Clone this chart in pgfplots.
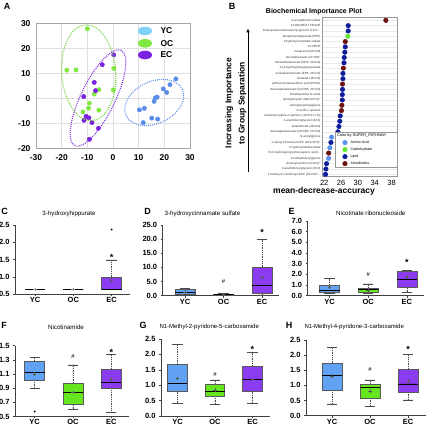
\documentclass[border=0pt]{standalone}
\usepackage{fontspec}
\setmainfont{Liberation Sans}
\usepackage{pgfplots}
\pgfplotsset{compat=1.18}
\usepgfplotslibrary{statistics}
\usetikzlibrary{arrows.meta}
\newcommand{\fs}[1]{\fontsize{#1}{#1}\selectfont}
\newcommand{\dd}{.\kern0.1pt.\kern0.1pt.}
\definecolor{ycA}{HTML}{5B8DE8}
\definecolor{ocA}{HTML}{80E840}
\definecolor{ecA}{HTML}{7A22E0}
\definecolor{ycL}{HTML}{80D2F6}
\definecolor{aa}{HTML}{5B8FF0}
\definecolor{carb}{HTML}{66E633}
\definecolor{lip}{HTML}{0C1C9C}
\definecolor{xen}{HTML}{6E1010}
\definecolor{ycB}{HTML}{62A2F4}
\definecolor{ocB}{HTML}{66E61E}
\definecolor{ecB}{HTML}{8C3CF0}
\tikzset{
 hashmark/.style={font=\fs{6}, anchor=base, yshift=-2pt},
 starmark/.style={font=\bfseries\fs{9}, anchor=base, yshift=-5pt},
}
\pgfplotsset{
 bpaxis/.style={
   scale only axis, anchor=south west, clip=false,
   axis x line*=bottom, axis y line*=left,
   axis line style={black!75, line width=0.6pt},
   xtick={1,2,3}, xticklabels={YC,OC,EC},
   tick align=outside, major tick length=2pt,
   tick style={black!75, line width=0.5pt},
   ticklabel style={font=\bfseries\fs{7.5}},
   xticklabel style={inner ysep=1pt},
   /pgf/number format/assume math mode=true,
   yticklabel style={/pgf/number format/fixed, /pgf/number format/fixed zerofill, /pgf/number format/precision=1},
   boxplot/draw direction=y,
   boxplot/box extend=0.52,
   boxplot/whisker extend=0.27,
   boxplot/every box/.style={draw=black!65, line width=0.5pt},
   boxplot/every median/.style={black, line width=0.7pt},
   boxplot/every average/.style={/tikz/mark=+, /tikz/mark size=1.8pt, black, solid, line width=0.5pt},
   boxplot/every whisker/.style={black!70, line width=0.5pt},
   boxplot/draw/lower whisker/.code={
     \draw[/pgfplots/boxplot/every whisker/.try, dash pattern=on 1pt off 0.8pt]
       (boxplot box cs:\pgfplotsboxplotvalue{lower whisker},0.5) -- (boxplot box cs:\pgfplotsboxplotvalue{lower quartile},0.5);
     \draw[/pgfplots/boxplot/every whisker/.try]
       (boxplot whisker cs:\pgfplotsboxplotvalue{lower whisker},0) -- (boxplot whisker cs:\pgfplotsboxplotvalue{lower whisker},1);
   },
   boxplot/draw/upper whisker/.code={
     \draw[/pgfplots/boxplot/every whisker/.try, dash pattern=on 1pt off 0.8pt]
       (boxplot box cs:\pgfplotsboxplotvalue{upper quartile},0.5) -- (boxplot box cs:\pgfplotsboxplotvalue{upper whisker},0.5);
     \draw[/pgfplots/boxplot/every whisker/.try]
       (boxplot whisker cs:\pgfplotsboxplotvalue{upper whisker},0) -- (boxplot whisker cs:\pgfplotsboxplotvalue{upper whisker},1);
   },
 },
 yc/.style={fill=ycB, draw=black!65},
 oc/.style={fill=ocB, draw=black!65},
 ec/.style={fill=ecB, draw=black!65},
}
\begin{document}
\begin{tikzpicture}[x=1pt,y=1pt]
\path[use as bounding box] (0,0) rectangle (431,428);

% ---------------- Panel A ----------------
\node[font=\bfseries\fs{9}] at (7,422) {A};
\begin{axis}[at={(36pt,279.7pt)}, anchor=south west, scale only axis,
  width=154pt, height=124.8pt, xmin=-30, xmax=30, ymin=-20, ymax=30,
  xtick={-30,-20,...,30}, ytick={-20,-10,...,30},
  grid=major, grid style={black!12}, axis line style={black!35},
  major tick length=0pt,
  ticklabel style={font=\bfseries\fs{8.5}},
  xticklabel style={yshift=-3pt}, yticklabel style={xshift=-2pt},
  /pgf/number format/assume math mode=true]
\addplot[only marks, mark=*, mark size=2.2pt, color=ycA] coordinates {
(24.5,7.8) (22.2,5.5) (19.6,3.8) (20.9,2.4) (16.5,0.2) (17.2,0.5) (16,-1.2)
(12.2,-4) (10.3,-4.6) (15.1,-7.9) (17.4,-8.3) (11.8,-9.7)};
\addplot[only marks, mark=*, mark size=2.2pt, color=ocA] coordinates {
(-10,27.9) (-18,11.3) (-14.4,11.4) (0.3,12) (0.1,3.4) (-5.5,3.5) (-7.3,1.7)
(-9.2,-1.9) (-9.5,-3.9) (-11.7,-5.4) (-5.5,-4.7)};
\addplot[only marks, mark=*, mark size=2.2pt, color=ecA] coordinates {
(0.3,17.4) (-4.2,13.5) (-7.3,6.4) (-6.8,3.1) (-11.4,0.7) (-10.5,-7.2) (-9.4,-7.8)
(-11.3,-8.8) (-8.2,-9.7) (-5.7,-12) (-9.2,-16.4)};
\end{axis}
\draw[ocA!90!black, line width=1.1pt, dash pattern=on 0.9pt off 1.1pt, rotate around={4:(88.7,355.2)}] (88.7,355.2) ellipse [x radius=27, y radius=48];
\draw[ecA, line width=1.1pt, dash pattern=on 0.9pt off 1.1pt, rotate around={64:(98,330)}] (98,330) ellipse [x radius=53, y radius=17];
\draw[ycA, line width=1.1pt, dash pattern=on 0.9pt off 1.1pt, rotate around={25:(154.2,325.5)}] (154.2,325.5) ellipse [x radius=31, y radius=21];
% legend A
\fill[ycL] (145,397) ellipse [x radius=7, y radius=4.3];
\fill[ocA] (145,384.7) ellipse [x radius=7, y radius=4.3];
\fill[ecA] (145,373) ellipse [x radius=7, y radius=4.3];
\node[font=\bfseries\fs{8.5}, anchor=west] at (157,397) {YC};
\node[font=\bfseries\fs{8.5}, anchor=west] at (157,384.7) {OC};
\node[font=\bfseries\fs{8.5}, anchor=west] at (157,373) {EC};

% ---------------- Panel B ----------------
\node[font=\bfseries\fs{9}] at (232,422) {B};
\node[font=\bfseries\fs{7}] at (314,416.3) {Biochemical Importance Plot};
\node[font=\bfseries\fs{8.5}] at (324,236.3) {mean-decrease-accuracy};
\node[font=\bfseries\fs{8.5}, rotate=90] at (229.3,325) {Increasing Importance};
\node[font=\bfseries\fs{8.5}, rotate=90] at (242.3,325) {to Group Separation};
\draw[line width=0.8pt, -{Latex[length=4pt,width=3.5pt]}] (248,256.3) -- (248,399.7);
\begin{axis}[at={(321.7pt,251.3pt)}, anchor=south west, scale only axis,
  width=75.3pt, height=159.4pt, xmin=21.4, xmax=39.3, ymin=0.55, ymax=30.57,
  xtick={22,26,30,34,38}, ytick={1,2,3,4,5,6,7,8,9,10,11,12,13,14,15,16,17,18,19,20,21,22,23,24,25,26,27,28,29,30},
  yticklabels={{1-linoleoyl-2-linolenoyl-GPC (18:2/18:\dd},{2-arachidonoylglycerol (20:4)},{linoleoylcarnitine (C18:2)*},{2-methylbutyrylglycine},{S-(3-hydroxypropyl)mercapturic acid(\dd},{5-hydroxyindoleacetate},{1-oleoyl-2-linoleoyl-GPC (18:1/18:2)*},{N-acetylglycine},{docosapentaenoate (n6 DPA; 22:5n6)},{stearidonate (18:4n3)},{1-arachidonylglycerol (20:4)},{linolenate [alpha or gamma; (18:3n3 or 6)]},{O-sulfo-L-tyrosine},{phenylpropionylglycine},{sphingomyelin (d18:2/24:2)*},{trimethylamine N-oxide},{docosapentaenoate (n3 DPA; 22:5n3)},{perfluorooctanesulfonic acid (PFOS)},{linoleate (18:2n6)},{eicosapentaenoate (EPA; 20:5n3)},{3-(4-hydroxyphenyl)propionate},{docosahexaenoate (DHA; 22:6n3)},{docosatrienoate (22:3n6)*},{mead acid (20:3n9)},{12-HEPE},{3-hydroxycinnamate sulfate},{phosphoenolpyruvate (PEP)},{linoleoyl-docosahexaenoyl-glycerol (18:2/\dd},{14-HDoHE/17-HDoHE},{3-acetylphenol sulfate}},
  yticklabel style={font=\fs{3}, text=black!80, inner xsep=1pt},
  xticklabel style={font=\fs{7.5}},
  ymajorgrids, grid style={black!8}, major tick length=0pt,
  axis line style={black!40},
  /pgf/number format/assume math mode=true,
  legend image code/.code={\path (-6pt,0pt); \draw[#1] plot coordinates {(0.1cm,0cm)};},
  legend style={at={(axis cs:24.5,9.0)}, anchor=north west, font=\fs{3.6},
    draw=black!40, inner sep=1pt, row sep=2.3pt, column sep=3pt,
    nodes={inner sep=0.3pt}},
  legend cell align=left]
\addlegendimage{empty legend}
\addlegendentry{\hspace*{-13.5pt}\fs{3.9}Color by SUPER\_PATHWAY\hspace*{9pt}}
\addplot[only marks, mark=*, mark size=2.3pt, color=aa] coordinates {(23.75,8) (23.35,6) (23.05,4)};
\addlegendentry{Amino Acid}
\addplot[only marks, mark=*, mark size=2.3pt, color=carb] coordinates {(27.6,27)};
\addlegendentry{Carbohydrate}
\addplot[only marks, mark=*, mark size=2.3pt, color=lip] coordinates {
(27.7,29) (27.7,28) (27.0,25) (26.9,24) (26.75,23) (26.7,22) (26.45,20) (26.45,19)
(26.35,17) (26.3,16) (26.3,15) (25.8,12) (25.7,11) (25.5,10) (25.25,9) (23.6,7)
(22.55,3) (22.4,2) (22.3,1)};
\addlegendentry{Lipid}
\addplot[only marks, mark=*, mark size=2.3pt, color=xen] coordinates {
(36.65,30) (27.0,26) (26.55,21) (26.35,18) (26.2,14) (26.1,13) (23.05,5)};
\addlegendentry{Xenobiotics}
\end{axis}

% ---------------- Panel C ----------------
\node[font=\bfseries\fs{9}] at (4.5,217) {C};
\node[font=\fs{6.2}] at (69,214) {3-hydroxyhippurate};
\begin{axis}[bpaxis, at={(15pt,133.7pt)}, width=114.6pt, height=69.3pt,
  xmin=0.478, xmax=3.47, ymin=0.5, ymax=2.5, ytick={0.5,1,1.5,2,2.5}]
\addplot[yc, draw=black!45, boxplot prepared={draw position=1, lower whisker=0.64, lower quartile=0.64, median=0.64, upper quartile=0.64, upper whisker=0.64, average=0.64}] coordinates {};
\addplot[oc, draw=black!45, boxplot prepared={draw position=2, lower whisker=0.64, lower quartile=0.64, median=0.64, upper quartile=0.64, upper whisker=0.64, average=0.64}] coordinates {};
\addplot[ec, boxplot prepared={draw position=3, lower whisker=0.64, lower quartile=0.64, median=0.64, upper quartile=0.99, upper whisker=1.49, average=0.91}] coordinates {};
\addplot[only marks, mark=*, mark size=0.7pt, black] coordinates {(3,2.37)};
\node[starmark] at (axis cs:3,1.62) {*};
\end{axis}

% ---------------- Panel D ----------------
\node[font=\bfseries\fs{9}] at (147.5,217) {D};
\node[font=\fs{6.2}] at (202.5,214) {3-hydroxycinnamate sulfate};
\begin{axis}[bpaxis, at={(162.7pt,132.3pt)}, width=116.7pt, height=70.7pt,
  xmin=0.42, xmax=3.45, ymin=0, ymax=25, ytick={0,5,10,15,20,25}]
\addplot[yc, boxplot prepared={draw position=1, lower whisker=0.2, lower quartile=0.6, median=1.1, upper quartile=2.2, upper whisker=2.5, average=1.3}] coordinates {};
\addplot[oc, boxplot prepared={draw position=2, lower whisker=0.1, lower quartile=0.2, median=0.35, upper quartile=0.55, upper whisker=0.7, average=0.4}] coordinates {};
\addplot[ec, boxplot prepared={draw position=3, lower whisker=0.3, lower quartile=1.0, median=3.6, upper quartile=10.0, upper whisker=19.8, average=6.4}] coordinates {};
\node[hashmark] at (axis cs:2,5) {\#};
\node[starmark] at (axis cs:3,23) {*};
\end{axis}

% ---------------- Panel E ----------------
\node[font=\bfseries\fs{9}] at (291.5,217) {E};
\node[font=\fs{6.2}] at (370.8,215) {Nicotinate ribonucleoside};
\begin{axis}[bpaxis, at={(307.7pt,132.3pt)}, width=116.6pt, height=74.7pt,
  xmin=0.437, xmax=3.45, ymin=0, ymax=7, ytick={0,1,2,3,4,5,6,7}]
\addplot[yc, boxplot prepared={draw position=1, lower whisker=0.2, lower quartile=0.35, median=0.5, upper quartile=1.0, upper whisker=1.6, average=0.78}] coordinates {};
\addplot[oc, boxplot prepared={draw position=2, lower whisker=0.2, lower quartile=0.35, median=0.6, upper quartile=0.72, upper whisker=1.1, average=0.55}] coordinates {};
\addplot[ec, boxplot prepared={draw position=3, lower whisker=0.3, lower quartile=0.75, median=1.55, upper quartile=2.28, upper whisker=2.4, average=1.78}] coordinates {};
\node[hashmark] at (axis cs:2,2.0) {\#};
\node[starmark] at (axis cs:3,3.3) {*};
\end{axis}

% ---------------- Panel F ----------------
\node[font=\bfseries\fs{9}] at (4,102.5) {F};
\node[font=\fs{6.2}] at (66,101) {Nicotinamide};
\begin{axis}[bpaxis, at={(15pt,11.5pt)}, width=114.3pt, height=70.8pt,
  xmin=0.486, xmax=3.47, ymin=0.5, ymax=1.5, ytick={0.5,0.7,0.9,1.1,1.3,1.5}]
\addplot[yc, boxplot prepared={draw position=1, lower whisker=0.90, lower quartile=1.016, median=1.12, upper quartile=1.285, upper whisker=1.34, average=1.10}] coordinates {};
\addplot[oc, boxplot prepared={draw position=2, lower whisker=0.60, lower quartile=0.667, median=0.84, upper quartile=0.97, upper whisker=1.23, average=0.84}] coordinates {};
\addplot[ec, boxplot prepared={draw position=3, lower whisker=0.556, lower quartile=0.905, median=0.98, upper quartile=1.17, upper whisker=1.38, average=1.03}] coordinates {};
\addplot[only marks, mark=*, mark size=0.7pt, black] coordinates {(1,0.57)};
\node[hashmark] at (axis cs:2,1.35) {\#};
\node[starmark] at (axis cs:3,1.43) {*};
\end{axis}

% ---------------- Panel G ----------------
\node[font=\bfseries\fs{9}] at (143,102.5) {G};
\node[font=\fs{6}, anchor=west] at (156,101) {N1-Methyl-2-pyridone-5-carboxamide};
\begin{axis}[bpaxis, at={(161pt,12pt)}, width=109.1pt, height=77pt,
  xmin=0.56, xmax=3.47, ymin=0, ymax=2.5, ytick={0,0.5,1,1.5,2,2.5}]
\addplot[yc, boxplot prepared={draw position=1, lower whisker=0.41, lower quartile=0.79, median=1.06, upper quartile=1.68, upper whisker=2.33, average=1.22}] coordinates {};
\addplot[oc, boxplot prepared={draw position=2, lower whisker=0.38, lower quartile=0.65, median=0.79, upper quartile=1.03, upper whisker=1.17, average=0.84}] coordinates {};
\addplot[ec, boxplot prepared={draw position=3, lower whisker=0.42, lower quartile=0.79, median=1.19, upper quartile=1.63, upper whisker=2.06, average=1.19}] coordinates {};
\node[hashmark] at (axis cs:2,1.36) {\#};
\node[starmark] at (axis cs:3,2.23) {*};
\end{axis}

% ---------------- Panel H ----------------
\node[font=\bfseries\fs{9}] at (289,102.5) {H};
\node[font=\fs{6}, anchor=west] at (301,101) {N1-Methyl-4-pyridone-3-carboxamide};
\begin{axis}[bpaxis, at={(306pt,12.3pt)}, width=119.9pt, height=75.7pt,
  xmin=0.316, xmax=3.47, ymin=0, ymax=2.5, ytick={0,0.5,1,1.5,2,2.5}]
\addplot[yc, boxplot prepared={draw position=1, lower whisker=0.39, lower quartile=0.84, median=1.32, upper quartile=1.73, upper whisker=2.26, average=1.31}] coordinates {};
\addplot[oc, boxplot prepared={draw position=2, lower whisker=0.32, lower quartile=0.59, median=0.92, upper quartile=1.04, upper whisker=1.18, average=0.82}] coordinates {};
\addplot[ec, boxplot prepared={draw position=3, lower whisker=0.52, lower quartile=0.78, median=1.05, upper quartile=1.54, upper whisker=2.03, average=1.15}] coordinates {};
\node[hashmark] at (axis cs:2,1.53) {\#};
\node[starmark] at (axis cs:3,2.24) {*};
\end{axis}
\end{tikzpicture}
\end{document}
